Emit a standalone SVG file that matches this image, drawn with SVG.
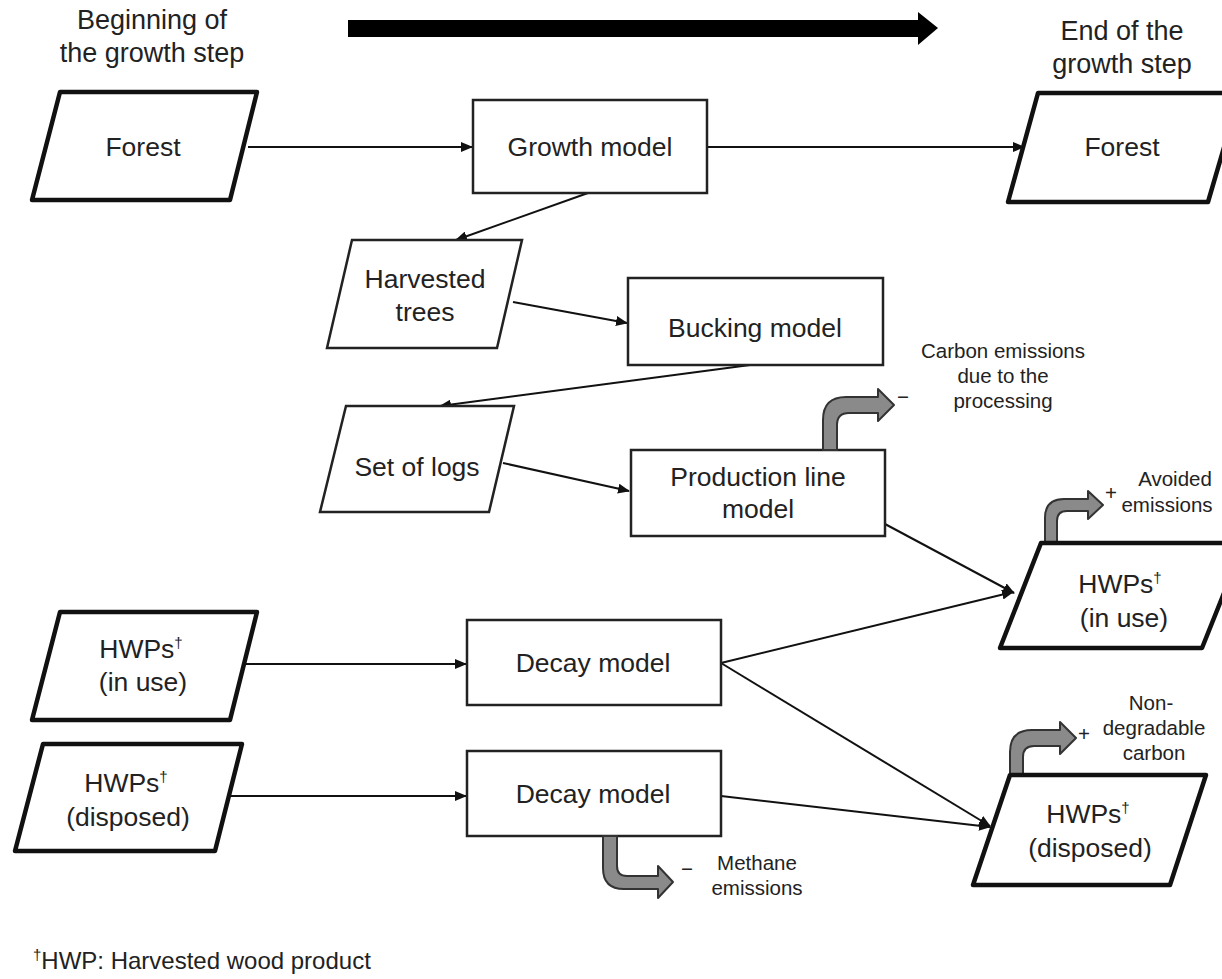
<svg xmlns="http://www.w3.org/2000/svg" width="1222" height="979" viewBox="0 0 1222 979">
<defs>
<marker id="ah" markerWidth="12" markerHeight="10" refX="11" refY="5" orient="auto" markerUnits="userSpaceOnUse">
<path d="M0,0 L12,5 L0,10 Z" fill="#111"/>
</marker>
<style>
text{font-family:"Liberation Sans",Arial,sans-serif;fill:#222;text-anchor:middle}
.n{font-size:26.5px}
.h{font-size:27px}
.s{font-size:20.5px}
.box{fill:#fff;stroke:#222;stroke-width:2.5}
.pt{fill:#fff;stroke:#111;stroke-width:4.5;stroke-linejoin:round}
.pn{fill:#fff;stroke:#222;stroke-width:2.5}
.c{stroke:#111;stroke-width:2;fill:none;marker-end:url(#ah)}
.g{fill:#8a8a8a;stroke:#333;stroke-width:2;stroke-linejoin:round}
.sup{font-size:15px}
</style>
</defs>
<rect width="1222" height="979" fill="#fff"/>

<g id="timeline">
<text class="h" x="152" y="29">Beginning of</text>
<text class="h" x="152" y="62">the growth step</text>
<text class="h" x="1122" y="40">End of the</text>
<text class="h" x="1122" y="73">growth step</text>
<rect x="348" y="20" width="572" height="17" fill="#000"/>
<path d="M918,12 L938,28 L918,45 Z" fill="#000"/>
</g>

<g id="connectors">
<line class="c" x1="248" y1="147" x2="472" y2="147"/>
<line class="c" x1="707" y1="147" x2="1024" y2="147"/>
<line class="c" x1="588" y1="193" x2="456" y2="240"/>
<line class="c" x1="513" y1="302" x2="627" y2="323"/>
<line class="c" x1="750" y1="365" x2="440" y2="406"/>
<line class="c" x1="503" y1="463" x2="629" y2="491"/>
<line class="c" x1="885" y1="524" x2="1014" y2="593"/>
<line class="c" x1="246" y1="664" x2="466" y2="664"/>
<line class="c" x1="231" y1="796" x2="466" y2="796"/>
<line class="c" x1="721" y1="663" x2="1013" y2="592"/>
<line class="c" x1="721" y1="663" x2="990" y2="826"/>
<line class="c" x1="721" y1="796" x2="990" y2="827"/>
</g>

<g id="forest-start">
<path class="pt" d="M60,92 L257,92 L230,200 L32,200 Z"/>
<text class="n" x="143" y="156">Forest</text>
</g>

<g id="growth-model">
<rect class="box" x="473" y="100" width="234" height="93"/>
<text class="n" x="590" y="156">Growth model</text>
</g>

<g id="forest-end">
<path class="pt" d="M1038,93 L1240,93 L1208,202 L1008,202 Z"/>
<text class="n" x="1122" y="156">Forest</text>
</g>

<g id="harvested-trees">
<path class="pn" d="M352,240 L522,240 L497,348 L327,348 Z"/>
<text class="n" x="425" y="288">Harvested</text>
<text class="n" x="425" y="321">trees</text>
</g>

<g id="bucking-model">
<rect class="box" x="628" y="278" width="255" height="87"/>
<text class="n" x="755" y="337">Bucking model</text>
</g>

<g id="set-of-logs">
<path class="pn" d="M346,406 L514,406 L489,512 L320,512 Z"/>
<text class="n" x="417" y="476">Set of logs</text>
</g>

<g id="production-line-model">
<rect class="box" x="631" y="450" width="254" height="86"/>
<text class="n" x="758" y="486">Production line</text>
<text class="n" x="758" y="518">model</text>
</g>

<g id="processing-emissions">
<path class="g" d="M823,450 L823,420 Q823,397 846,397 L878,397 L878,389 L894,405 L878,421 L878,413 L849,413 Q837,413 837,425 L837,450 Z"/>
<text class="s" x="903" y="404">−</text>
<text class="s" x="1003" y="358">Carbon emissions</text>
<text class="s" x="1003" y="383">due to the</text>
<text class="s" x="1003" y="408">processing</text>
</g>

<g id="hwp-in-use-end">
<path class="g" d="M1045,543 L1045,518 Q1045,499 1064,499 L1088,499 L1088,491 L1103,505 L1088,519 L1088,511 L1067,511 Q1057,511 1057,521 L1057,543 Z"/>
<text class="s" x="1111" y="500">+</text>
<text class="s" x="1175" y="486">Avoided</text>
<text class="s" x="1167" y="512">emissions</text>
<path class="pt" d="M1041,543 L1244,543 L1202,648 L1000,648 Z"/>
<text class="n" x="1120" y="593">HWPs<tspan class="sup" dy="-10">†</tspan></text>
<text class="n" x="1124" y="627">(in use)</text>
</g>

<g id="hwp-in-use-start">
<path class="pt" d="M60,612 L257,612 L230,720 L32,720 Z"/>
<text class="n" x="141" y="658">HWPs<tspan class="sup" dy="-10">†</tspan></text>
<text class="n" x="143" y="691">(in use)</text>
</g>

<g id="hwp-disposed-start">
<path class="pt" d="M43,744 L242,744 L215,851 L15,851 Z"/>
<text class="n" x="126" y="792">HWPs<tspan class="sup" dy="-10">†</tspan></text>
<text class="n" x="128" y="826">(disposed)</text>
</g>

<g id="decay-model-1">
<rect class="box" x="467" y="620" width="254" height="85"/>
<text class="n" x="593" y="672">Decay model</text>
</g>

<g id="decay-model-2">
<rect class="box" x="467" y="751" width="254" height="85"/>
<text class="n" x="593" y="803">Decay model</text>
</g>

<g id="methane-emissions">
<path class="g" d="M603,836 L603,868 Q603,889 624,889 L658,889 L658,898 L673,882 L658,866 L658,876 L627,876 Q617,876 617,866 L617,836 Z"/>
<text class="s" x="687" y="876">−</text>
<text class="s" x="757" y="870">Methane</text>
<text class="s" x="757" y="895">emissions</text>
</g>

<g id="hwp-disposed-end">
<path class="g" d="M1010,775 L1010,752 Q1010,730 1032,730 L1060,730 L1060,722 L1076,738 L1060,754 L1060,746 L1034,746 Q1023,746 1023,757 L1023,775 Z"/>
<text class="s" x="1084" y="741">+</text>
<text class="s" x="1151" y="710">Non-</text>
<text class="s" x="1154" y="735">degradable</text>
<text class="s" x="1154" y="760">carbon</text>
<path class="pt" d="M1010,775 L1206,775 L1170,885 L973,885 Z"/>
<text class="n" x="1088" y="823">HWPs<tspan class="sup" dy="-10">†</tspan></text>
<text class="n" x="1090" y="857">(disposed)</text>
</g>

<g id="footnote">
<text x="33" y="969" style="font-size:24px;text-anchor:start"><tspan class="sup" dy="-9">†</tspan><tspan dy="9">HWP: Harvested wood product</tspan></text>
</g>
</svg>
